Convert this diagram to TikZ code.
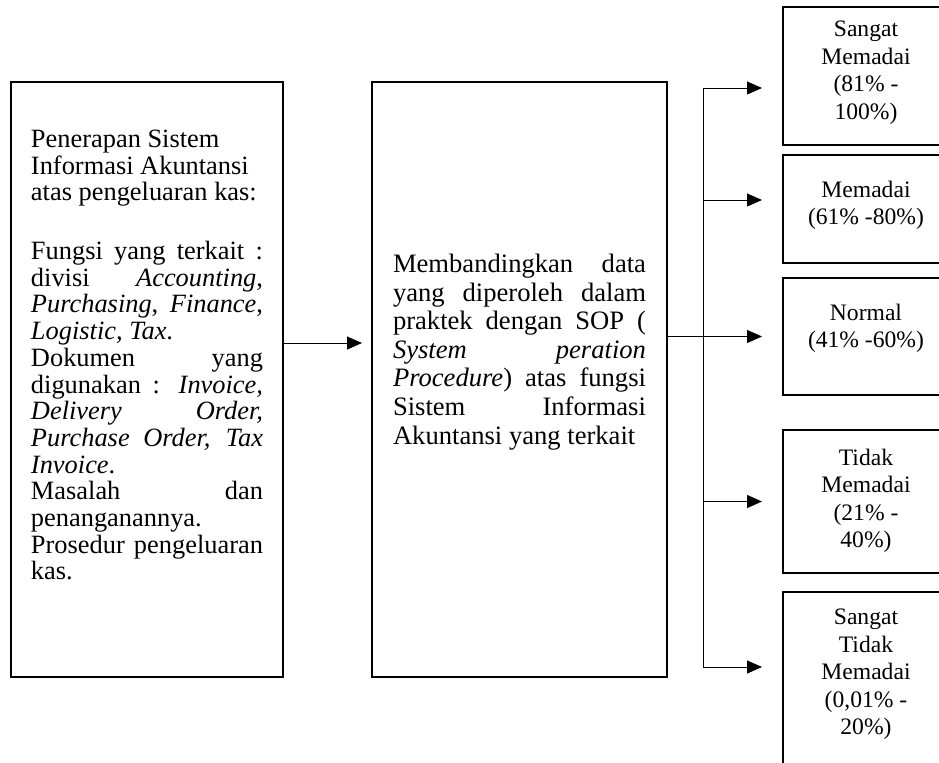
\documentclass[tikz,border=0pt]{standalone}
\usepackage{fontspec}
\setmainfont{Liberation Serif}
\usetikzlibrary{positioning,arrows.meta}
\tolerance=10000
\hbadness=10000
\hyphenpenalty=10000

\begin{document}
\begin{tikzpicture}[x=0.5pt,y=-0.5pt,
    kotak/.style = {draw, line width=1pt, inner ysep=0pt, inner xsep=10pt},
    hasil/.style = {kotak, inner xsep=0pt, font=\fontsize{11.8}{13.75}\selectfont},
    garis/.style = {line width=0.5pt},
    panah/.style = {garis, -{Triangle[length=7.5pt,width=6.5pt]}, shorten >=10pt}
  ]
  \useasboundingbox (0,0) rectangle (939,762);
  \clip (0,0) rectangle (939,762);

  % kotak kiri dan tengah
  \node[kotak, font=\fontsize{13.2}{13.35}\selectfont] (kiri) at (147,379.5)
    {\parbox[c][297.5pt][t]{116pt}{\vspace*{24pt}%
      Penerapan Sistem\\ Informasi Akuntansi\\ atas pengeluaran kas:\par\vspace{16pt}
      Fungsi yang terkait :\linebreak
      divisi \textit{Accounting},\linebreak
      \textit{Purchasing}, \textit{Finance},\linebreak
      \textit{Logistic, Tax}.\newline
      Dokumen yang\linebreak
      digunakan : \textit{Invoice,}\linebreak
      \textit{Delivery Order,}\linebreak
      \textit{Purchase Order, Tax}\linebreak
      \textit{Invoice}.\newline
      Masalah dan\linebreak
      penanganannya.\newline
      Prosedur pengeluaran\linebreak
      kas.}};
  \node[kotak, inner xsep=10.5pt, font=\fontsize{13.3}{14.3}\selectfont] (tengah) at (519.5,379.5)
    {\parbox[c][297.5pt][t]{126.5pt}{\vspace*{86pt}%
      Membandingkan data\linebreak
      yang diperoleh dalam\linebreak
      praktek dengan SOP (\linebreak
      \textit{System peration}\linebreak
      \textit{Procedure}) atas fungsi\linebreak
      Sistem Informasi\linebreak
      Akuntansi yang terkait}};

  % kotak hasil
  \node[hasil] (sm) at (866,76)
    {\parbox[c][69pt][t]{83pt}{\centering\vspace*{7pt}Sangat\\Memadai\\(81\% -\\100\%)}};
  \node[hasil] (m) at (866,209)
    {\parbox[c][54pt][t]{83pt}{\centering\vspace*{13pt}Memadai\\(61\% -80\%)}};
  \node[hasil] (n) at (866,336.5)
    {\parbox[c][58.5pt][t]{83pt}{\centering\vspace*{13pt}Normal\\(41\% -60\%)}};
  \node[hasil] (tm) at (866,501.5)
    {\parbox[c][71.5pt][t]{83pt}{\centering\vspace*{9.5pt}Tidak\\Memadai\\(21\% -\\40\%)}};
  \node[hasil] (stm) at (866,686)
    {\parbox[c][94pt][t]{83pt}{\centering\vspace*{8.5pt}Sangat\\Tidak\\Memadai\\(0,01\% -\\20\%)}};

  % garis penghubung
  \coordinate (atas) at (703,88);
  \coordinate (bawah) at (703,667);
  \draw[panah, shorten >=4.5pt] ([yshift=18.25pt]kiri.east) -- ([yshift=18.25pt]tengah.west);
  \draw[garis] (atas) -- (bawah);
  \draw[garis] ([yshift=21.5pt]tengah.east) -- (atas |- n.west);
  \draw[panah] (atas) -- (atas -| sm.west);
  \draw[panah] ([yshift=4.5pt]atas |- m.west) -- ([yshift=4.5pt]m.west);
  \draw[panah] (atas |- n.west) -- (n.west);
  \draw[panah] (atas |- tm.west) -- (tm.west);
  \draw[panah] (bawah) -- (bawah -| stm.west);
\end{tikzpicture}
\end{document}
